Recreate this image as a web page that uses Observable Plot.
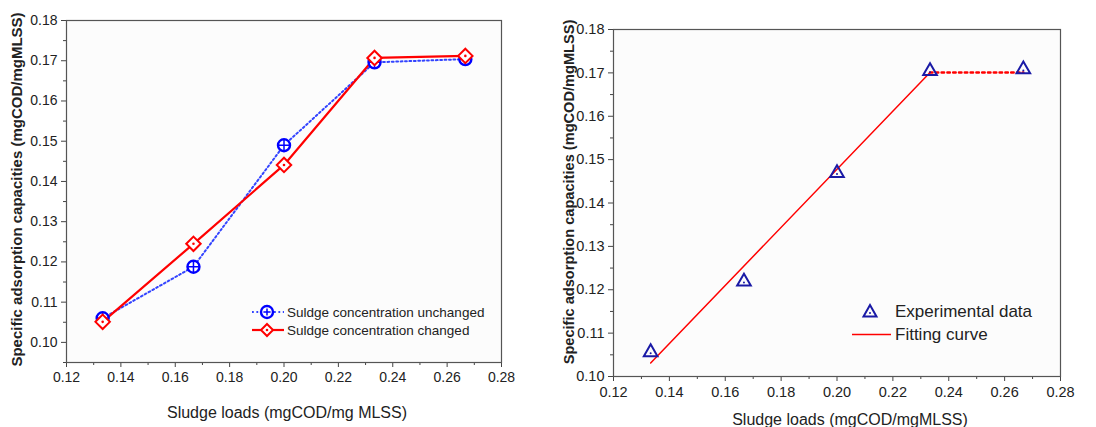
<!DOCTYPE html>
<html><head><meta charset="utf-8">
<script src="https://cdn.jsdelivr.net/npm/d3@7"></script>
<script src="https://cdn.jsdelivr.net/npm/@observablehq/plot@0.6"></script>
<style>
body{margin:0;background:#fff;font-family:"Liberation Sans",Arial,sans-serif;}
#wrap{position:relative;width:1096px;height:427px;overflow:hidden;}
.panel{position:absolute;top:0;}
.leg{position:absolute;font-family:"Liberation Sans",Arial,sans-serif;color:#222;white-space:nowrap;}
.leg .row{display:flex;align-items:center;}
.leg svg{display:block;}
</style></head>
<body>
<div id="wrap"></div>
<script>
// ---- data ----
const loads = [0.1333, 0.1667, 0.2, 0.2333, 0.2667];
const unchanged = [0.106, 0.1188, 0.149, 0.1696, 0.1704];
const changed = [0.1051, 0.1245, 0.1441, 0.1707, 0.1712];
const experimental = [0.1056, 0.1219, 0.1469, 0.1704, 0.1708];
const fitX = [0.1333, 0.2333];
const fitY = [0.1031, 0.1701];
const plateauX = [0.2333, 0.2667];
const plateauY = [0.1701, 0.1701];
const xTicks = [0.12, 0.14, 0.16, 0.18, 0.20, 0.22, 0.24, 0.26, 0.28];
const xMinor = [0.13, 0.15, 0.17, 0.19, 0.21, 0.23, 0.25, 0.27];
const yTicks = [0.10, 0.11, 0.12, 0.13, 0.14, 0.15, 0.16, 0.17, 0.18];
const yMinorL = [0.095, 0.105, 0.115, 0.125, 0.135, 0.145, 0.155, 0.165, 0.175];
const yMinorR = [0.105, 0.115, 0.125, 0.135, 0.145, 0.155, 0.165, 0.175];
const yLabel = "Specific adsorption capacities (mgCOD/mgMLSS)";
const xLabelL = "Sludge loads (mgCOD/mg MLSS)";
const xLabelR = "Sludge loads (mgCOD/mgMLSS)";
const seriesNames = ["Suldge concentration unchanged", "Suldge concentration changed"];
const seriesNamesR = ["Experimental data", "Fitting curve"];

const zip = (xs, ys) => xs.map((x, i) => ({x, y: ys[i]}));
const dUn = zip(loads, unchanged), dCh = zip(loads, changed), dEx = zip(loads, experimental);
const dFit = zip(fitX, fitY), dPl = zip(plateauX, plateauY);
const fmt = d3.format(".2f");
const axisCol = "#444";

function axes(o) {
  return [
    Plot.frame({fill: "#fcfcfc", stroke: "none"}),
    Plot.axisX({ticks: xTicks, tickFormat: fmt, tickSize: 5, tickPadding: 5, fontSize: o.fs, stroke: axisCol, color: "#222", label: null}),
    Plot.axisX({ticks: xMinor, tickFormat: null, text: null, tickSize: 3, stroke: axisCol, label: null}),
    Plot.axisY({ticks: yTicks, tickFormat: fmt, tickSize: 5, tickPadding: 4, fontSize: o.fs, stroke: axisCol, color: "#222", label: null}),
    Plot.axisY({ticks: o.yMinor, tickFormat: null, text: null, tickSize: 3, stroke: axisCol, label: null}),
    Plot.frame({stroke: "#555", strokeWidth: 1.2}),
    Plot.text([o.xlabel], {text: d => d, frameAnchor: "bottom", dy: o.xdy, dx: o.xdx, fontSize: o.xfs, fill: "#222", lineAnchor: "middle", textAnchor: "middle"}),
    Plot.text([o.ylabel], {text: d => d, frameAnchor: "left", rotate: -90, dx: -o.ydx, dy: o.ydy, fontSize: o.yfs, fontWeight: "bold", fill: "#222", lineAnchor: "middle", textAnchor: "middle"})
  ];
}

const left = Plot.plot({
  width: 548, height: 427,
  marginLeft: 66, marginRight: 47, marginTop: 20, marginBottom: 65,
  style: {fontFamily: "Liberation Sans, Arial, sans-serif", background: "transparent", overflow: "visible"},
  x: {domain: [0.12, 0.28], axis: null},
  y: {domain: [0.095, 0.18], axis: null},
  marks: [
    ...axes({yMinor: yMinorL, fs: 14, xlabel: xLabelL, xdy: 50, xdx: 3, xfs: 16, ylabel: yLabel, ydx: 49, ydy: -2, yfs: 15}),
    Plot.line(dUn, {x: "x", y: "y", stroke: "#3344ff", strokeWidth: 2, strokeDasharray: "1.8 2.6"}),
    Plot.line(dCh, {x: "x", y: "y", stroke: "#ff0000", strokeWidth: 2.2}),
    Plot.dot(dUn, {x: "x", y: "y", symbol: "circle", r: 6, stroke: "#0000ff", strokeWidth: 2.4, fill: "white"}),
    Plot.dot(dUn, {x: "x", y: "y", symbol: "plus", r: 3.6, stroke: "#0000ff", strokeWidth: 1.5, fill: "none"}),
    Plot.dot(dCh, {x: "x", y: "y", symbol: "diamond2", r: 6.5, stroke: "#ff0000", strokeWidth: 2, fill: "white"}),
    Plot.dot(dCh, {x: "x", y: "y", r: 1.3, fill: "#ff0000", stroke: "none"})
  ]
});

const right = Plot.plot({
  width: 548, height: 427,
  marginLeft: 65, marginRight: 36, marginTop: 29, marginBottom: 51,
  style: {fontFamily: "Liberation Sans, Arial, sans-serif", background: "transparent", overflow: "visible"},
  x: {domain: [0.12, 0.28], axis: null},
  y: {domain: [0.10, 0.18], axis: null},
  marks: [
    ...axes({yMinor: yMinorR, fs: 14.5, xlabel: xLabelR, xdy: 43.5, xdx: 13, xfs: 16, ylabel: yLabel, ydx: 44, ydy: -11, yfs: 14.6}),
    Plot.line(dFit, {x: "x", y: "y", stroke: "#ff0000", strokeWidth: 1.5}),
    Plot.line(dPl, {x: "x", y: "y", stroke: "#ff0000", strokeWidth: 2.6, strokeDasharray: "2.4 3.4"}),
    Plot.dot(dEx, {x: "x", y: "y", symbol: "triangle2", r: 6.5, stroke: "#1a1aa6", strokeWidth: 2, fill: "none"}),
    Plot.dot(dEx, {x: "x", y: "y", r: 1, fill: "#1a1aa6", stroke: "none", dy: 1})
  ]
});

const wrap = document.getElementById("wrap");
const pl = document.createElement("div"); pl.className = "panel"; pl.style.left = "0px"; pl.appendChild(left); wrap.appendChild(pl);
const pr = document.createElement("div"); pr.className = "panel"; pr.style.left = "548px"; pr.appendChild(right); wrap.appendChild(pr);

// legends (HTML overlay)
const legL = document.createElement("div");
legL.className = "leg"; legL.style.left = "251px"; legL.style.top = "303px"; legL.style.fontSize = "13.5px";
legL.innerHTML = `
<div class="row" style="height:18px"><svg width="34" height="18"><line x1="1" x2="33" y1="9" y2="9" stroke="#3344ff" stroke-width="2" stroke-dasharray="1.8 2.6"/><circle cx="16" cy="9" r="6" fill="white" stroke="#0000ff" stroke-width="2.4"/><path d="M12.4,9H19.6M16,5.4V12.6" stroke="#0000ff" stroke-width="1.5"/></svg><span style="margin-left:2px">${seriesNames[0]}</span></div>
<div class="row" style="height:18px"><svg width="34" height="18"><line x1="1" x2="33" y1="9" y2="9" stroke="#ff0000" stroke-width="2.2"/><path d="M16,3L22,9L16,15L10,9Z" fill="white" stroke="#ff0000" stroke-width="2"/><circle cx="16" cy="9" r="1.3" fill="#ff0000"/></svg><span style="margin-left:2px">${seriesNames[1]}</span></div>`;
wrap.appendChild(legL);

const legR = document.createElement("div");
legR.className = "leg"; legR.style.left = "851px"; legR.style.top = "300px"; legR.style.fontSize = "17px";
legR.innerHTML = `
<div class="row" style="height:23px"><svg width="42" height="23"><path d="M19,5L25.5,16.5H12.5Z" fill="none" stroke="#1a1aa6" stroke-width="2"/><circle cx="19" cy="13" r="1" fill="#1a1aa6"/></svg><span style="margin-left:2px">${seriesNamesR[0]}</span></div>
<div class="row" style="height:23px"><svg width="42" height="23"><line x1="1" x2="40" y1="11.5" y2="11.5" stroke="#ff0000" stroke-width="1.5"/></svg><span style="margin-left:2px">${seriesNamesR[1]}</span></div>`;
wrap.appendChild(legR);
</script>
</body></html>
